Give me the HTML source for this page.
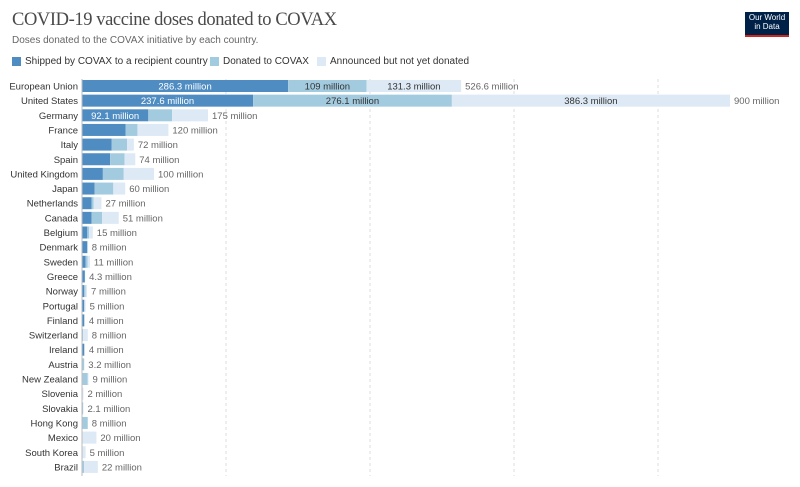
<!DOCTYPE html>
<html><head><meta charset="utf-8">
<style>
body{margin:0;width:800px;height:487px;background:#fff;font-family:"Liberation Sans",sans-serif;overflow:hidden;position:relative}
#title{position:absolute;left:12px;top:10px;font-family:"Liberation Serif",serif;font-size:18.5px;color:#4a4a4a;letter-spacing:-0.4px}
#sub{position:absolute;left:12px;top:35px;font-size:10px;color:#666}
#logo{position:absolute;left:745px;top:12px;width:44px;height:22px;background:#002147;border-bottom:2px solid #ce261e;color:#fff;font-size:8px;line-height:9px;text-align:center;padding-top:1px;box-sizing:content-box}
.leg{position:absolute;top:56px;font-size:10px;color:#333;display:flex;align-items:center}
.sw{width:9px;height:9px;margin-right:4px;display:inline-block}
</style></head><body>
<div id="title">COVID-19 vaccine doses donated to COVAX</div>
<div id="sub">Doses donated to the COVAX initiative by each country.</div>
<div id="logo">Our World<br>in Data</div>
<div class="leg" style="left:12px"><span class="sw" style="background:#4f8cc2"></span>Shipped by COVAX to a recipient country</div>
<div class="leg" style="left:210px"><span class="sw" style="background:#a3cbe0"></span>Donated to COVAX</div>
<div class="leg" style="left:317px"><span class="sw" style="background:#dde9f5"></span>Announced but not yet donated</div>
<svg id="chart" width="800" height="487" style="position:absolute;left:0;top:0"></svg>
<script>
const countries=["European Union","United States","Germany","France","Italy","Spain","United Kingdom","Japan","Netherlands","Canada","Belgium","Denmark","Sweden","Greece","Norway","Portugal","Finland","Switzerland","Ireland","Austria","New Zealand","Slovenia","Slovakia","Hong Kong","Mexico","South Korea","Brazil"];
const shipped=[286.3,237.6,92.1,60.7,41,39,29,17.6,13.4,13.4,7.4,7,5,4,2.8,3,3,0.5,3,0.5,1,0.3,0.5,0.5,0,0,1];
const donated=[109,276.1,33,16.3,21.5,20,29,25.9,2.6,14.6,2.6,1,3,0.3,2.2,0.5,0.5,1,0.5,2.5,7,0.7,1,7.5,0,0.5,2];
const announced=[131.3,386.3,49.9,43,9.5,15,42,16.5,11,23,5,0,3,0,2,1.5,0.5,6.5,0.5,0.2,1,1,0.6,0,20,4.5,19];
const totalLabels=["526.6 million","900 million","175 million","120 million","72 million","74 million","100 million","60 million","27 million","51 million","15 million","8 million","11 million","4.3 million","7 million","5 million","4 million","8 million","4 million","3.2 million","9 million","2 million","2.1 million","8 million","20 million","5 million","22 million"];
const gridTicks=[0,200,400,600,800];
const NS="http://www.w3.org/2000/svg";
const svg=document.getElementById('chart');
const x0=82,pxPerM=0.72;
const x=v=>x0+v*pxPerM;
const y=i=>86+i*14.65;
function mk(tag,attrs){const e=document.createElementNS(NS,tag);for(const k in attrs)e.setAttribute(k,attrs[k]);svg.appendChild(e);return e;}
gridTicks.forEach((t,i)=>{
  if(t===0)return;
  const l=mk('line',{x1:x(t),x2:x(t),y1:79,y2:476,stroke:'#ddd','stroke-dasharray':'3,3'});
  
  
});
const colors=["#4f8cc2","#a3cbe0","#dde9f5"];
const fmt=v=>(Math.round(v*10)/10)+" million";
countries.forEach((c,i)=>{
  const cy=y(i);
  const lab=mk('text',{x:78,y:cy+3.5,'text-anchor':'end','font-size':'9.5','fill':'#333'});
  lab.textContent=c;
  
  
  const segs=[shipped[i],donated[i],announced[i]];
  let acc=0;
  segs.forEach((v,k)=>{
    if(v<=0)return;
    const r=mk('rect',{x:x(acc),y:cy-6,width:v*pxPerM,height:12,fill:colors[k]});
    
    
    if(i<2||(i===2&&k===0)){
      const t=mk('text',{x:x(acc)+v*pxPerM/2,y:cy+3.5,'text-anchor':'middle','font-size':'9.5',fill:k===0?'#fff':'#333'});
      t.textContent=fmt(v);
      
      
    }
    acc+=v;
  });
  const tl=mk('text',{x:x(acc)+4,y:cy+3.5,'font-size':'9.5',fill:'#666'});
  tl.textContent=totalLabels[i];
  
  
});
const ax=mk('line',{x1:x0,x2:x0,y1:79,y2:476,stroke:'#bbb'});


</script>
</body></html>
